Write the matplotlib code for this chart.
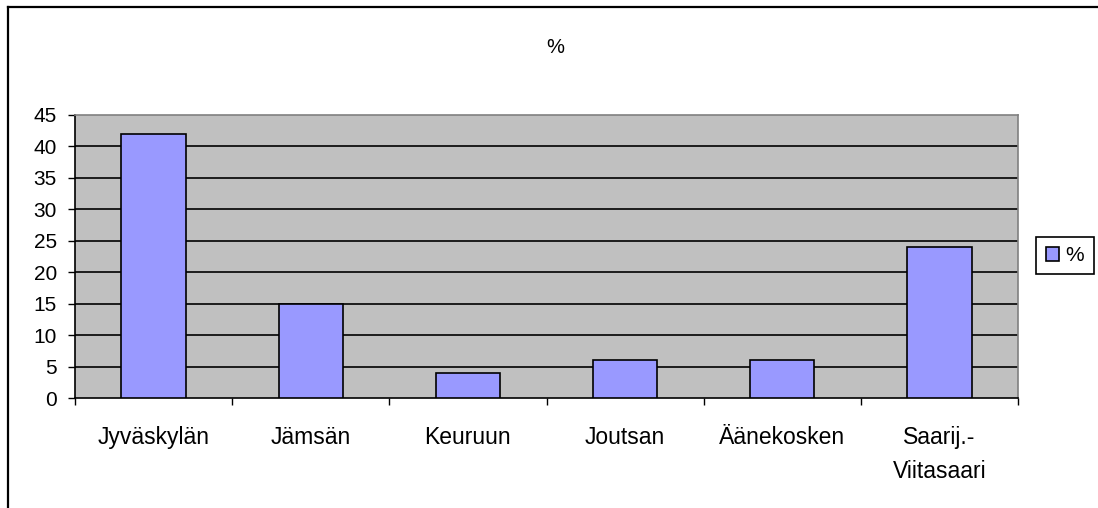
import matplotlib.pyplot as plt
from matplotlib.lines import Line2D

plt.rcParams['font.family'] = ['Liberation Sans', 'DejaVu Sans']
plt.rcParams['font.size'] = 15

# data
kunnat = ['Jyväskylän', 'Jämsän', 'Keuruun', 'Joutsan', 'Äänekosken', 'Saarij.-\nViitasaari']
prosentit = [42, 15, 4, 6, 6, 24]
yticks = [0, 5, 10, 15, 20, 25, 30, 35, 40, 45]

W, H = 1098, 508
fig = plt.figure(figsize=(W / 100, H / 100), dpi=100)
ax = fig.add_axes([75 / W, 1 - 398 / H, (1018 - 75) / W, (398 - 115) / H])
ax.set_facecolor('#C0C0C0')

x = list(range(len(kunnat)))
ax.bar(x, prosentit, width=0.41, color='#9999FF', edgecolor='black', linewidth=1.2, zorder=3, label='%')

ax.set_xlim(-0.5, len(kunnat) - 0.5)
ax.set_ylim(0, 45)
ax.set_yticks(yticks)
for v in yticks[1:-1]:
    ax.axhline(v, color='black', linewidth=1.2, zorder=1)

# category boundaries as major ticks, names as minor ticks
ax.set_xticks([i - 0.5 for i in range(len(kunnat) + 1)])
ax.set_xticklabels([])
ax.set_xticks(x, minor=True)
ax.set_xticklabels(kunnat, minor=True, linespacing=1.6, fontsize=16.5)
ax.tick_params(axis='x', which='major', direction='out', length=5, width=1, color='black')
ax.tick_params(axis='x', which='minor', length=0, pad=20.5)
ax.tick_params(axis='y', direction='out', length=5, width=1, pad=8, labelsize=15)

for s in ['top', 'right']:
    ax.spines[s].set_color('#808080')
    ax.spines[s].set_linewidth(1.2)
for s in ['left', 'bottom']:
    ax.spines[s].set_color('black')
    ax.spines[s].set_linewidth(1.2)

fig.text(555 / W, 1 - 47 / H, '%', ha='center', va='center', fontsize=14.5)

leg = fig.legend(loc='center', bbox_to_anchor=(1065 / W, 1 - 255.5 / H), fontsize=15,
                 fancybox=False, edgecolor='black', framealpha=1, borderpad=0.45,
                 handlelength=0.65, handleheight=0.65, handletextpad=0.3, borderaxespad=0)
leg.get_frame().set_linewidth(1.2)

# outer chart border (runs off the right and bottom of the image)
fig.add_artist(Line2D([8 / W, 1.0], [1 - 7 / H, 1 - 7 / H], color='black', linewidth=1.6, transform=fig.transFigure))
fig.add_artist(Line2D([8 / W, 8 / W], [0.0, 1 - 7 / H], color='black', linewidth=1.6, transform=fig.transFigure))

fig.savefig('out.png', dpi=100)
